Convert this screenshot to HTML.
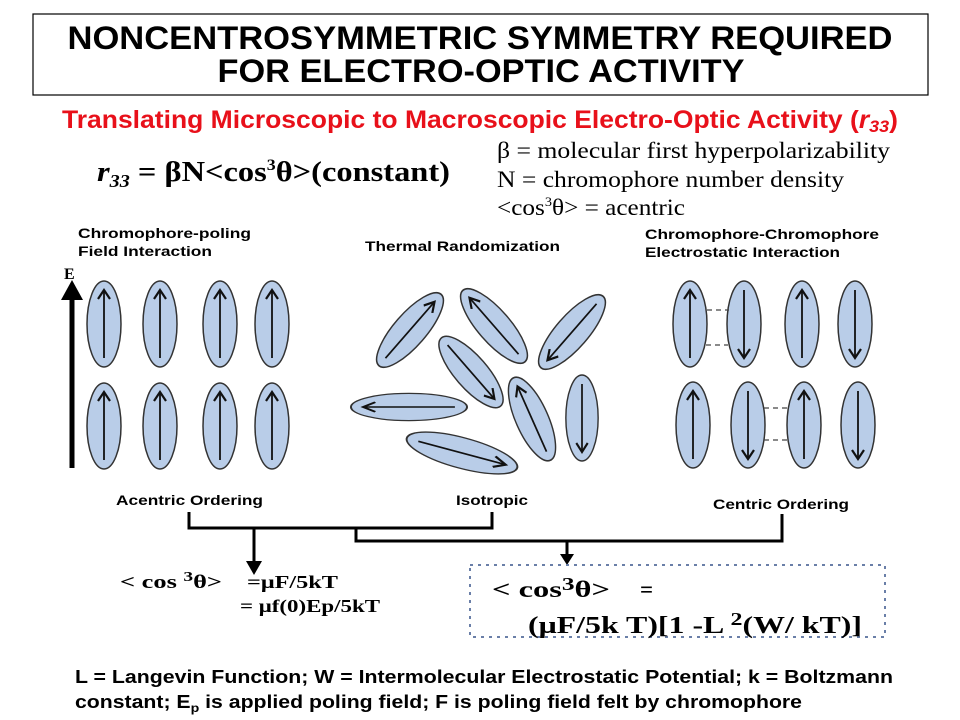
<!DOCTYPE html>
<html><head><meta charset="utf-8"><style>
html,body{margin:0;padding:0;background:#fff;}
svg{display:block;}
.h{font-family:"Liberation Sans",sans-serif;font-weight:bold;}
.t{font-family:"Liberation Serif",serif;}
</style></head><body>
<svg width="960" height="720" viewBox="0 0 960 720" xmlns="http://www.w3.org/2000/svg">
<defs>
<g id="up"><ellipse cx="0" cy="0" rx="43" ry="17" fill="#b9cde8" stroke="#333" stroke-width="1.5"/><line x1="-34" y1="0" x2="34" y2="0" stroke="#111" stroke-width="1.8"/><polyline points="25,-6 34,0 25,6" fill="none" stroke="#111" stroke-width="2.2"/></g>
<g id="dn"><ellipse cx="0" cy="0" rx="43" ry="17" fill="#b9cde8" stroke="#333" stroke-width="1.5"/><line x1="-34" y1="0" x2="34" y2="0" stroke="#111" stroke-width="1.8"/><polyline points="-25,-6 -34,0 -25,6" fill="none" stroke="#111" stroke-width="2.2"/></g>
</defs>
<rect x="33" y="14" width="895" height="81" fill="#fff" stroke="#000" stroke-width="1.2"/>
<text class="h" x="480" y="49" font-size="32" text-anchor="middle" textLength="825" lengthAdjust="spacingAndGlyphs">NONCENTROSYMMETRIC SYMMETRY REQUIRED</text>
<text class="h" x="481" y="82" font-size="32" text-anchor="middle" textLength="527" lengthAdjust="spacingAndGlyphs">FOR ELECTRO-OPTIC ACTIVITY</text>
<text class="h" x="62" y="128" font-size="25" fill="#e8101a" textLength="836" lengthAdjust="spacingAndGlyphs">Translating Microscopic to Macroscopic Electro-Optic Activity (<tspan font-style="italic">r</tspan><tspan font-style="italic" font-size="17" dy="4">33</tspan><tspan dy="-4">)</tspan></text>
<text class="t" x="97" y="181" font-size="29" font-weight="bold" textLength="353" lengthAdjust="spacingAndGlyphs"><tspan font-style="italic">r</tspan><tspan font-style="italic" font-size="18" dy="6">33</tspan><tspan dy="-6"> = βN&lt;cos</tspan><tspan font-size="16" dy="-11">3</tspan><tspan dy="11">θ&gt;(constant)</tspan></text>
<text class="t" x="497" y="158" font-size="23" textLength="393" lengthAdjust="spacingAndGlyphs">β = molecular first hyperpolarizability</text>
<text class="t" x="497" y="187" font-size="23" textLength="347" lengthAdjust="spacingAndGlyphs">N = chromophore number density</text>
<text class="t" x="497" y="215" font-size="23" textLength="188" lengthAdjust="spacingAndGlyphs">&lt;cos<tspan font-size="13" dy="-9">3</tspan><tspan dy="9">θ&gt; = acentric</tspan></text>
<text class="h" x="78" y="238" font-size="14" textLength="173" lengthAdjust="spacingAndGlyphs">Chromophore-poling</text>
<text class="h" x="78" y="256" font-size="14" textLength="134" lengthAdjust="spacingAndGlyphs">Field Interaction</text>
<text class="h" x="365" y="251" font-size="14" textLength="195" lengthAdjust="spacingAndGlyphs">Thermal Randomization</text>
<text class="h" x="645" y="239" font-size="14" textLength="234" lengthAdjust="spacingAndGlyphs">Chromophore-Chromophore</text>
<text class="h" x="645" y="257" font-size="14" textLength="195" lengthAdjust="spacingAndGlyphs">Electrostatic Interaction</text>
<!-- E arrow -->
<text class="t" x="64" y="279" font-size="16" font-weight="bold">E</text>
<line x1="72" y1="468" x2="72" y2="296" stroke="#000" stroke-width="5"/>
<polygon points="72,280 61,300 83,300" fill="#000"/>
<!-- left group -->
<use href="#up" transform="translate(104,324) rotate(-90)"/>
<use href="#up" transform="translate(160,324) rotate(-90)"/>
<use href="#up" transform="translate(220,324) rotate(-90)"/>
<use href="#up" transform="translate(272,324) rotate(-90)"/>
<use href="#up" transform="translate(104,426) rotate(-90)"/>
<use href="#up" transform="translate(160,426) rotate(-90)"/>
<use href="#up" transform="translate(220,426) rotate(-90)"/>
<use href="#up" transform="translate(272,426) rotate(-90)"/>
<!-- center group -->
<use href="#up" transform="translate(410,330) rotate(-49) scale(1.1,0.95)"/>
<use href="#dn" transform="translate(494,326) rotate(49) scale(1.1,0.95)"/>
<use href="#dn" transform="translate(572,332) rotate(-49) scale(1.1,0.95)"/>
<use href="#up" transform="translate(471,372) rotate(49) scale(1.05,0.95)"/>
<use href="#dn" transform="translate(409,407) scale(1.35,0.8)"/>
<use href="#dn" transform="translate(532,419) rotate(66) scale(1.05,0.95)"/>
<use href="#up" transform="translate(582,418) rotate(90) scale(1,0.95)"/>
<use href="#up" transform="translate(462,453) rotate(15) scale(1.33,0.9)"/>
<!-- right group -->
<use href="#up" transform="translate(690,324) rotate(-90)"/>
<use href="#dn" transform="translate(744,324) rotate(-90)"/>
<use href="#up" transform="translate(802,324) rotate(-90)"/>
<use href="#dn" transform="translate(855,324) rotate(-90)"/>
<use href="#up" transform="translate(693,425) rotate(-90)"/>
<use href="#dn" transform="translate(748,425) rotate(-90)"/>
<use href="#up" transform="translate(804,425) rotate(-90)"/>
<use href="#dn" transform="translate(858,425) rotate(-90)"/>
<g stroke="#444" stroke-width="1.3" stroke-dasharray="5,4">
<line x1="707" y1="310" x2="729" y2="310"/><line x1="706" y1="345" x2="728" y2="345"/>
<line x1="764" y1="408" x2="789" y2="408"/><line x1="764" y1="440" x2="789" y2="440"/>
</g>
<!-- labels -->
<text class="h" x="116" y="505" font-size="14" textLength="147" lengthAdjust="spacingAndGlyphs">Acentric Ordering</text>
<text class="h" x="456" y="505" font-size="14" textLength="72" lengthAdjust="spacingAndGlyphs">Isotropic</text>
<text class="h" x="713" y="509" font-size="14" textLength="136" lengthAdjust="spacingAndGlyphs">Centric Ordering</text>
<!-- brackets -->
<g fill="none" stroke="#000" stroke-width="3">
<polyline points="189,512 189,528 492,528 492,512"/>
<polyline points="356,528 356,541 782,541 782,514"/>
<line x1="254" y1="528" x2="254" y2="564"/>
<line x1="567" y1="541" x2="567" y2="556"/>
</g>
<polygon points="254,575 246,561 262,561" fill="#000"/>
<polygon points="567,565 560,554 574,554" fill="#000"/>
<!-- left formula -->
<text class="t" x="120" y="588" font-size="19" font-weight="bold" textLength="102" lengthAdjust="spacingAndGlyphs">&lt; cos <tspan font-size="14" dy="-7">3</tspan><tspan dy="7">θ&gt;</tspan></text>
<text class="t" x="247" y="588" font-size="18" font-weight="bold" textLength="91" lengthAdjust="spacingAndGlyphs">=μF/5kT</text>
<text class="t" x="240" y="612" font-size="18" font-weight="bold" textLength="140" lengthAdjust="spacingAndGlyphs">=  μf(0)Ep/5kT</text>
<!-- dotted box -->
<rect x="470" y="565" width="415" height="72" fill="none" stroke="#6a7fa8" stroke-width="2" stroke-dasharray="3,5"/>
<text class="t" x="492" y="597" font-size="23" font-weight="bold" textLength="118" lengthAdjust="spacingAndGlyphs">&lt; cos<tspan font-size="18" dy="-7">3</tspan><tspan dy="7">θ&gt;</tspan></text>
<text class="t" x="640" y="597" font-size="23" font-weight="bold">=</text>
<text class="t" x="528" y="633" font-size="24" font-weight="bold" textLength="334" lengthAdjust="spacingAndGlyphs">(μF/5k  T)[1 -L <tspan font-size="18" dy="-8">2</tspan><tspan dy="8">(W/ kT)]</tspan></text>
<!-- footer -->
<text class="h" x="75" y="683" font-size="18" textLength="818" lengthAdjust="spacingAndGlyphs">L = Langevin Function; W = Intermolecular Electrostatic Potential; k = Boltzmann</text>
<text class="h" x="75" y="708" font-size="18" textLength="727" lengthAdjust="spacingAndGlyphs">constant; E<tspan font-size="12" dy="4">p</tspan><tspan dy="-4"> is applied poling field; F is poling field felt by chromophore</tspan></text>
</svg>
</body></html>
